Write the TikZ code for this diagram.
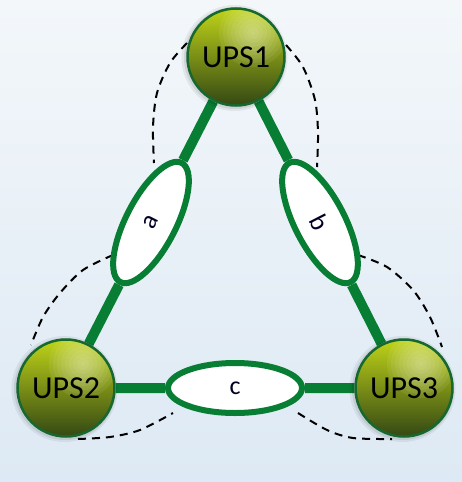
\documentclass[tikz,border=0pt]{standalone}
\usepackage{fontspec}
\setmainfont{Carlito}
\usetikzlibrary{calc,shapes.geometric}

\definecolor{linkgreen}{RGB}{8,126,52}
\definecolor{upsedge}{RGB}{22,104,46}
\definecolor{upshigh}{RGB}{248,250,215}
\definecolor{upsmain}{RGB}{186,208,8}
\definecolor{upsdark}{RGB}{52,72,20}
\definecolor{bgtop}{RGB}{243,247,250}
\definecolor{bgbot}{RGB}{221,233,244}

\pgfdeclarelayer{paper}
\pgfdeclarelayer{wires}
\pgfsetlayers{paper,wires,main}

\tikzset{
  ups/.style={circle,draw=upsedge,line width=2.5pt,
    top color=upsmain!92!upshigh,middle color=upsmain!90!upsdark,bottom color=upsdark,
    minimum size=97pt,inner sep=0pt,font=\fontsize{32}{36}\selectfont,
    path picture={
      \foreach \r in {34,30,...,2}
        \fill[upshigh,opacity=0.08]
          ($(path picture bounding box.center)+(17,-24)$) circle (\r pt);},
    preaction={draw=black,opacity=0.06,line width=9pt,
      transform canvas={xshift=-1.5pt,yshift=-1pt}},
    preaction={draw=black,opacity=0.08,line width=5pt,
      transform canvas={xshift=-1pt,yshift=-1pt}}},
  linkbox/.style={ellipse,draw=linkgreen,line width=6pt,fill=white,
    minimum width=134pt,minimum height=50pt,inner sep=0pt,
    font=\fontsize{26}{30}\selectfont,text=black!85!blue},
  link/.style={draw=linkgreen,line width=10pt},
  ringdash/.style={black,line width=2pt,dash pattern=on 8pt off 6pt}
}

\begin{document}
\begin{tikzpicture}[x=1pt,y=-1pt]

\begin{pgfonlayer}{paper}
\shade[top color=bgtop,bottom color=bgbot] (0,0) rectangle (462,482);
\end{pgfonlayer}

\node[ups] (u1) at (236, 57) {UPS1};
\node[ups] (u2) at ( 66,388) {UPS2};
\node[ups] (u3) at (404,388) {UPS3};

\node[linkbox,rotate= 62.8] (la) at ($(u1)!0.5!(u2)$) {a};
\node[linkbox,rotate=-62.8] (lb) at ($(u1)!0.5!(u3)$) {b};
\node[linkbox]              (lc) at ($(u2)!0.5!(u3)$) {c};

\begin{pgfonlayer}{wires}
\path[link]
  (u1) -- (la) (la) -- (u2)
  (u1) -- (lb) (lb) -- (u3)
  (u2) -- (lc) (lc) -- (u3);

% dashed rings round the UPS
\draw[ringdash] plot[smooth] coordinates
  {(187,43) (170,63) (157,93) (153,127) (154,163)};
\draw[ringdash] plot[smooth] coordinates
  {(286,45) (303,67) (315,100) (318,133) (317,167)};
\draw[ringdash] plot[smooth] coordinates
  {(113,255) (83,270) (60,293) (43,317) (31,345)};
\draw[ringdash] plot[smooth] coordinates
  {(78,439) (110,437) (140,430) (173,413)};
\draw[ringdash] plot[smooth] coordinates
  {(358,255) (387,267) (413,290) (430,317) (442,347)};
\draw[ringdash] plot[smooth] coordinates
  {(298,413) (327,430) (353,438) (392,439)};
\end{pgfonlayer}

\end{tikzpicture}
\end{document}
